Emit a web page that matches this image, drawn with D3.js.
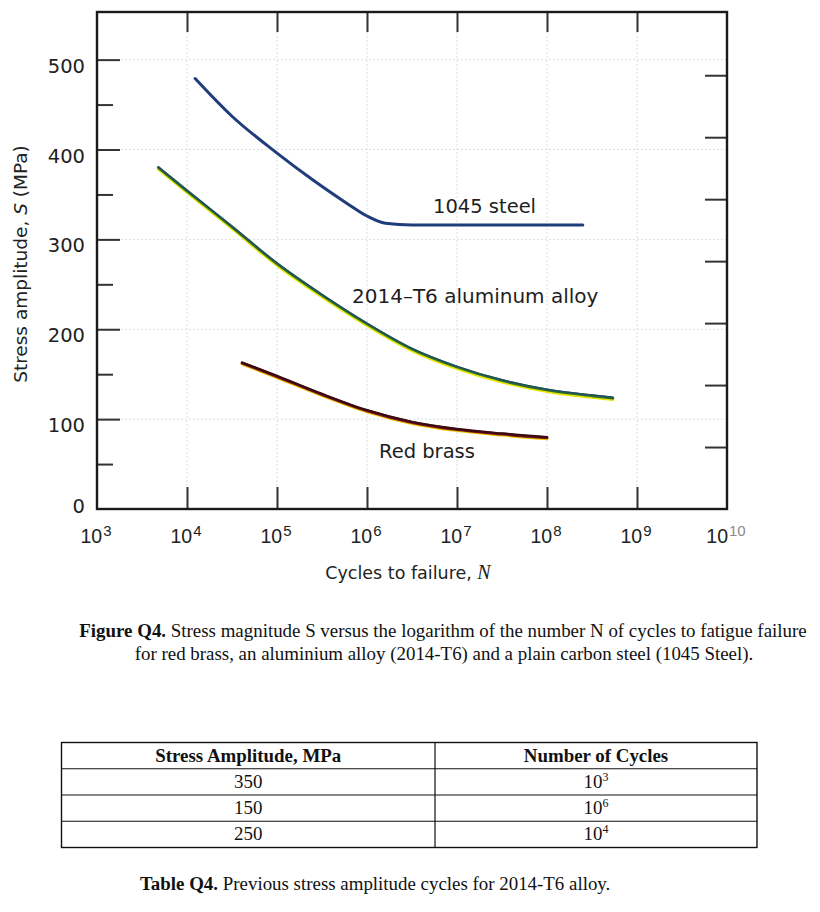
<!DOCTYPE html>
<html><head><meta charset="utf-8">
<script src="https://cdn.jsdelivr.net/npm/d3@7"></script>
<style>body{margin:0;background:#fff}svg{display:block}</style>
</head><body><svg id="c" width="820" height="912"></svg>
<script>
// ---------- data ----------
const decades = [3, 4, 5, 6, 7, 8, 9, 10];
const stressTicks = [0, 100, 200, 300, 400, 500];
const stressMinor = [50, 150, 250, 350, 450];
const ksiTicks = [10, 20, 30, 40, 50, 60, 70];

const steelN = [12300, 31600, 100000, 251000, 600000, 1000000, 1600000, 3160000, 250000000];
const steelS = [479, 437, 396, 366, 340, 326, 318, 316, 316];

const alN = [4800, 10000, 31600, 100000, 316000, 1000000, 3160000, 10000000, 31600000, 100000000, 316000000, 540000000];
const alS = [380, 354, 314, 273, 238, 206, 178, 158, 143, 132.5, 126, 123.5];

const brassN = [41000, 100000, 316000, 1000000, 3160000, 10000000, 31600000, 100000000];
const brassS = [163, 148, 128, 110, 97, 89, 84, 80];

const seriesLabels = ["1045 steel", "2014\u2013T6 aluminum alloy", "Red brass"];

const tableHeader = ["Stress Amplitude, MPa", "Number of Cycles"];
const tableStress = ["350", "150", "250"];
const tableExp = ["3", "6", "4"];

// ---------- setup ----------
const svg = d3.select("#c");
svg.append("rect").attr("width", 820).attr("height", 912).attr("fill", "#fff");

const L = 97, R = 727, T = 12, B = 509;
const x = d3.scaleLog().domain([1e3, 1e10]).range([L, R]);
const y = d3.scaleLinear().domain([0, 553]).range([B, T]);
const yKsi = d3.scaleLinear().domain([0, 553 / 6.89476]).range([B, T]);

const sans = "DejaVu Sans, Verdana, sans-serif";
const arial = "Liberation Sans, Arial, sans-serif";
const serif = "Liberation Serif, 'Times New Roman', serif";

// grid
const grid = svg.append("g").attr("stroke", "#d9e0e6").attr("stroke-width", 1).attr("stroke-dasharray", "2,2");
grid.selectAll("line.v").data(decades.slice(1, -1)).join("line")
  .attr("x1", d => x(Math.pow(10, d))).attr("x2", d => x(Math.pow(10, d)))
  .attr("y1", T).attr("y2", B);
grid.selectAll("line.h").data(stressTicks.slice(1)).join("line")
  .attr("x1", L).attr("x2", R).attr("y1", d => y(d)).attr("y2", d => y(d));

// ticks via axes
const tickStyle = g => { g.select(".domain").remove(); g.selectAll("text").remove(); g.selectAll("line").attr("stroke", "#333").attr("stroke-width", 2); };
svg.append("g").attr("transform", `translate(${L},0)`)
  .call(d3.axisLeft(y).tickValues(stressTicks.slice(1)).tickSize(-23)).call(tickStyle);
svg.append("g").attr("transform", `translate(${L},0)`)
  .call(d3.axisLeft(y).tickValues(stressMinor).tickSize(-16)).call(tickStyle);
svg.append("g").attr("transform", `translate(0,${B})`)
  .call(d3.axisBottom(x).tickValues(decades.slice(1, -1).map(d => Math.pow(10, d))).tickSize(-22)).call(tickStyle);
svg.append("g").attr("transform", `translate(0,${T})`)
  .call(d3.axisTop(x).tickValues(decades.slice(1, -1).map(d => Math.pow(10, d))).tickSize(-20)).call(tickStyle);
svg.append("g").attr("transform", `translate(${R},0)`)
  .call(d3.axisRight(yKsi).tickValues(ksiTicks).tickSize(-22)).call(tickStyle);

// frame
svg.append("rect").attr("x", L).attr("y", T).attr("width", R - L).attr("height", B - T)
  .attr("fill", "none").attr("stroke", "#1a1a1a").attr("stroke-width", 2.4);

// y tick labels
svg.append("g").selectAll("text").data(stressTicks).join("text")
  .attr("x", 85).attr("y", d => y(d) + (d === 0 ? 4 : 13))
  .attr("text-anchor", "end").attr("font-family", sans).attr("font-size", 19.5).attr("fill", "#222")
  .text(d => d);

// x tick labels
const xl = svg.append("g").selectAll("text").data(decades).join("text")
  .attr("x", d => x(Math.pow(10, d)) - 1).attr("y", 543)
  .attr("text-anchor", "middle").attr("font-family", arial).attr("font-size", 19.5).attr("fill", "#222");
xl.append("tspan").text("10");
xl.append("tspan").attr("dy", -7).attr("dx", 1).attr("font-size", 15)
  .attr("fill", d => d === 10 ? "#8a8a8a" : "#222").text(d => d);

// axis titles
const yt = svg.append("text").attr("transform", "translate(27,264) rotate(-90)")
  .attr("text-anchor", "middle").attr("font-family", sans).attr("font-size", 18.5).attr("fill", "#222");
yt.append("tspan").text("Stress amplitude, ");
yt.append("tspan").attr("font-style", "italic").text("S");
yt.append("tspan").text(" (MPa)");

const xt = svg.append("text").attr("x", 408).attr("y", 579)
  .attr("text-anchor", "middle").attr("font-family", sans).attr("font-size", 17.5).attr("fill", "#222");
xt.append("tspan").text("Cycles to failure, ");
xt.append("tspan").attr("font-family", serif).attr("font-style", "italic").attr("font-size", 20).text("N");

// curves
const line = d3.line().x(d => x(d[0])).y(d => y(d[1])).curve(d3.curveMonotoneX);
const steel = d3.zip(steelN, steelS), al = d3.zip(alN, alS), brass = d3.zip(brassN, brassS);
const curves = svg.append("g").attr("fill", "none").attr("stroke-linecap", "round");
curves.append("path").attr("d", line(al)).attr("stroke", "#e6e600").attr("stroke-width", 3).attr("transform", "translate(0,1.6)");
curves.append("path").attr("d", line(al)).attr("stroke", "#2b6a36").attr("stroke-width", 2.8);
curves.append("path").attr("d", line(al)).attr("stroke", "#1f4a63").attr("stroke-width", 1.2).attr("transform", "translate(0,-0.8)");
curves.append("path").attr("d", line(brass)).attr("stroke", "#f0d000").attr("stroke-width", 3).attr("transform", "translate(0,1.6)");
curves.append("path").attr("d", line(brass)).attr("stroke", "#8a1a1a").attr("stroke-width", 3).attr("transform", "translate(0,0.6)");
curves.append("path").attr("d", line(brass)).attr("stroke", "#3a0a12").attr("stroke-width", 2.4);
curves.append("path").attr("d", line(steel)).attr("stroke", "#1f3d7a").attr("stroke-width", 3);

// series labels
svg.append("g").selectAll("text").data(seriesLabels).join("text")
  .attr("x", (d, i) => [433, 352, 379][i]).attr("y", (d, i) => [213, 303, 458][i])
  .attr("font-family", sans).attr("font-size", (d, i) => [19.5, 20, 19.5][i]).attr("fill", "#1e1e1e").text(d => d);

// figure caption
const capSize = 18.9;
const cap1 = svg.append("text").attr("x", 443).attr("y", 637).attr("text-anchor", "middle")
  .attr("font-family", serif).attr("font-size", capSize).attr("fill", "#111");
cap1.append("tspan").attr("font-weight", "bold").text("Figure Q4.");
cap1.append("tspan").text(" Stress magnitude S versus the logarithm of the number N of cycles to fatigue failure");
svg.append("text").attr("x", 444).attr("y", 660).attr("text-anchor", "middle")
  .attr("font-family", serif).attr("font-size", capSize).attr("fill", "#111")
  .text("for red brass, an aluminium alloy (2014-T6) and a plain carbon steel (1045 Steel).");

// table
const tL = 61.5, tM = 435, tR = 757;
const rows = d3.scaleBand().domain([0, 1, 2, 3]).range([742.5, 847.5]);
const tbl = svg.append("g");
tbl.append("rect").attr("x", tL).attr("y", rows.range()[0]).attr("width", tR - tL)
  .attr("height", rows.range()[1] - rows.range()[0]).attr("fill", "none").attr("stroke", "#111").attr("stroke-width", 1.4);
tbl.selectAll("line.r").data([1, 2, 3]).join("line")
  .attr("x1", tL).attr("x2", tR).attr("y1", d => rows(d)).attr("y2", d => rows(d))
  .attr("stroke", "#111").attr("stroke-width", 1.2);
tbl.append("line").attr("x1", tM).attr("x2", tM).attr("y1", rows.range()[0]).attr("y2", rows.range()[1])
  .attr("stroke", "#111").attr("stroke-width", 1.2);
const c1 = (tL + tM) / 2, c2 = (tM + tR) / 2;
tbl.selectAll("text.h").data(tableHeader).join("text")
  .attr("x", (d, i) => i ? c2 : c1).attr("y", rows(0) + rows.bandwidth() / 2 + 6)
  .attr("text-anchor", "middle").attr("font-family", serif).attr("font-weight", "bold")
  .attr("font-size", capSize).attr("fill", "#111").text(d => d);
tbl.selectAll("text.s").data(tableStress).join("text")
  .attr("x", c1).attr("y", (d, i) => rows(i + 1) + rows.bandwidth() / 2 + 6)
  .attr("text-anchor", "middle").attr("font-family", serif).attr("font-size", capSize).attr("fill", "#111").text(d => d);
const nt = tbl.selectAll("text.n").data(tableExp).join("text")
  .attr("x", c2).attr("y", (d, i) => rows(i + 1) + rows.bandwidth() / 2 + 6)
  .attr("text-anchor", "middle").attr("font-family", serif).attr("font-size", capSize).attr("fill", "#111");
nt.append("tspan").text("10");
nt.append("tspan").attr("dy", -7).attr("font-size", 12).text(d => d);

// table caption
const tc = svg.append("text").attr("x", 140).attr("y", 890)
  .attr("font-family", serif).attr("font-size", capSize).attr("fill", "#111");
tc.append("tspan").attr("font-weight", "bold").text("Table Q4.");
tc.append("tspan").text(" Previous stress amplitude cycles for 2014-T6 alloy.");
</script>
</body></html>
